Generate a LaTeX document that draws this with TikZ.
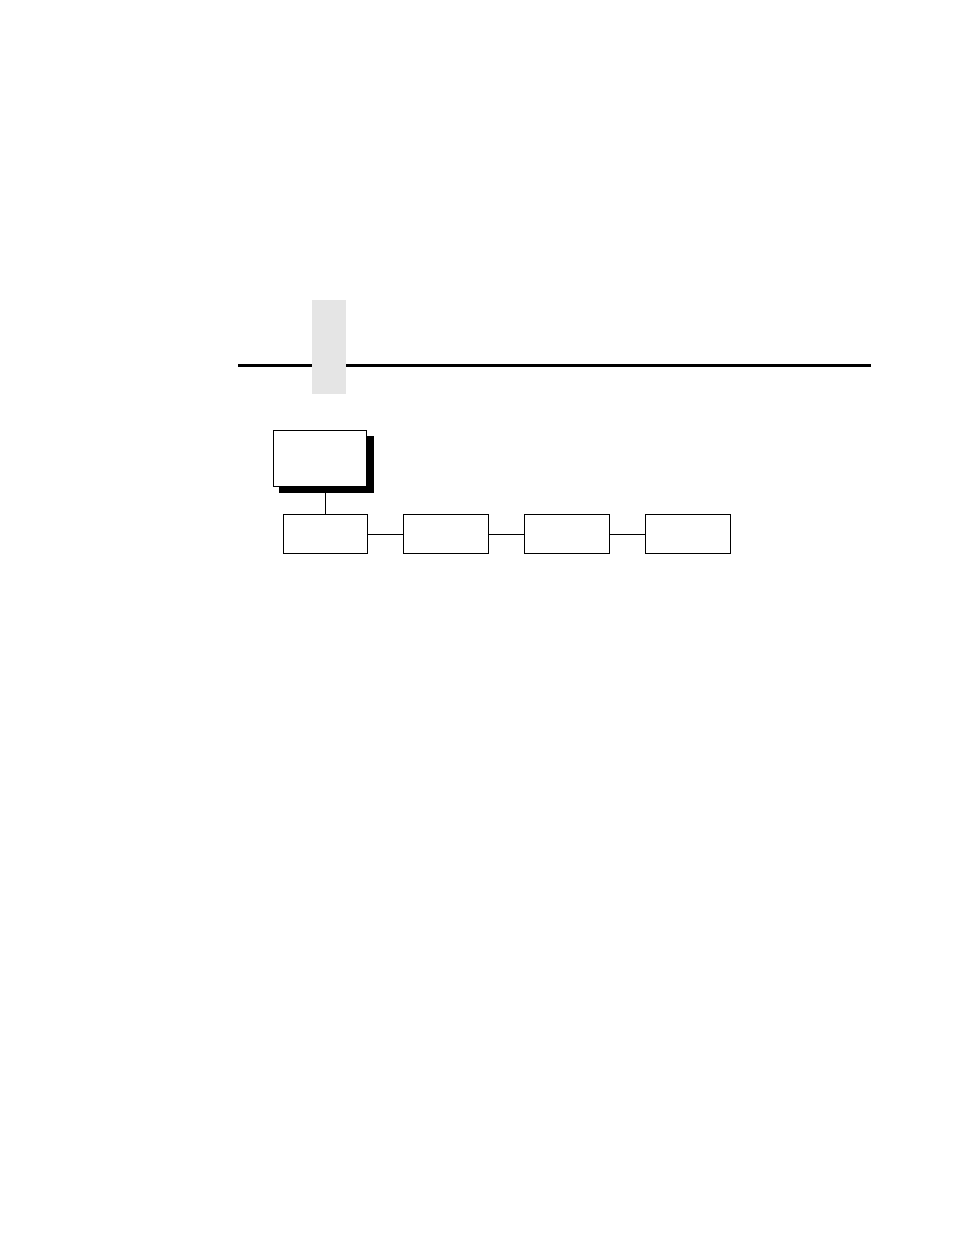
\documentclass[tikz,border=0pt]{standalone}
\begin{document}
\begin{tikzpicture}[x=1pt,y=-1pt,
  box/.style={draw=black,line width=1.1pt,fill=white,inner sep=0pt},
  conn/.style={draw=black,line width=1.1pt}]
\useasboundingbox (0,0) rectangle (954,1235);
\fill[white] (0,0) rectangle (954,1235);
% header tab and rule
\fill[black!10] (312,300) rectangle (346,394);
\draw[line width=3pt] (238,365) -- (312,365);
\draw[line width=3pt] (346,365) -- (871,365);
% top box with shadow
\fill[black] (279,436) rectangle (374,493);
\node[box,minimum width=93pt,minimum height=56pt,anchor=north west] (top) at (273.3,430) {};
% bottom boxes
\node[box,minimum width=84pt,minimum height=39pt,anchor=north west] (b1) at (283.3,514.3) {};
\node[box,minimum width=85pt,minimum height=39pt,anchor=north west] (b2) at (403.3,514.3) {};
\node[box,minimum width=84.7pt,minimum height=39pt,anchor=north west] (b3) at (524.3,514.3) {};
\node[box,minimum width=84.4pt,minimum height=39pt,anchor=north west] (b4) at (645.3,514.3) {};
\coordinate (drop) at (325.3,493);
\draw[conn] (drop) -- (drop |- b1.north);
\draw[conn] (b1.east) -- (b2.west);
\draw[conn] (b2.east) -- (b3.west);
\draw[conn] (b3.east) -- (b4.west);
\end{tikzpicture}
\end{document}
